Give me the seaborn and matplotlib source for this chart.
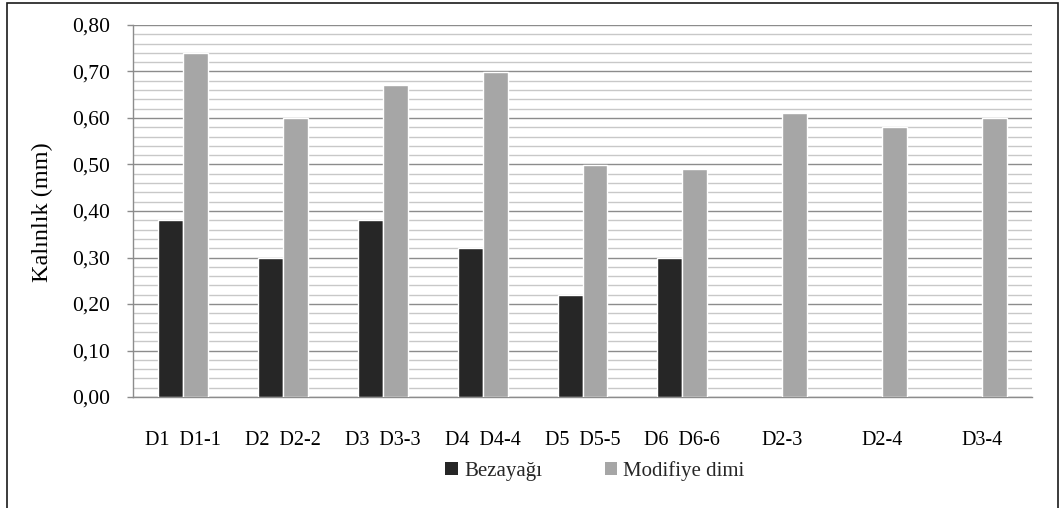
import numpy as np
import pandas as pd
import matplotlib
matplotlib.use("Agg")
import matplotlib.pyplot as plt
from matplotlib.patches import Rectangle, Patch
from matplotlib.ticker import MultipleLocator, FuncFormatter
import seaborn as sns

# Category labels along the x axis
categories = ["D1  D1-1", "D2  D2-2", "D3  D3-3", "D4  D4-4", "D5  D5-5",
              "D6  D6-6", "D2-3", "D2-4", "D3-4"]
series_names = ["Bezayağı", "Modifiye dimi"]

# Thickness values (mm); plain weave has no sample for the last three groups
bezayagi = [0.38, 0.30, 0.38, 0.32, 0.22, 0.30, np.nan, np.nan, np.nan]
modifiye_dimi = [0.74, 0.60, 0.67, 0.70, 0.50, 0.49, 0.61, 0.58, 0.60]

y_label = "Kalınlık (mm)"

df = pd.DataFrame({
    "kategori": categories * 2,
    "seri": [series_names[0]] * len(categories) + [series_names[1]] * len(categories),
    "deger": bezayagi + modifiye_dimi,
})

sns.set_theme(style="white")
plt.rcParams["font.family"] = ["Liberation Serif", "DejaVu Serif"]

colors = {"Bezayağı": "#262626", "Modifiye dimi": "#a6a6a6"}

fig = plt.figure(figsize=(10.59, 5.08), dpi=100)
ax = fig.add_axes([133 / 1059, 1 - 397 / 508, (1032 - 133) / 1059, (397 - 25) / 508])

sns.barplot(data=df, x="kategori", y="deger", hue="seri", order=categories,
            hue_order=series_names, palette=colors, width=0.5, dodge=True,
            saturation=1, errorbar=None, legend=False, ax=ax, zorder=3)

ax.set_xlim(-0.5, len(categories) - 0.5)
ax.set_ylim(0, 0.80)
ax.yaxis.set_major_locator(MultipleLocator(0.10))
ax.yaxis.set_minor_locator(MultipleLocator(0.02))
ax.yaxis.set_major_formatter(FuncFormatter(lambda v, p: f"{v:.2f}".replace(".", ",")))

ax.grid(False)
ax.grid(axis="y", which="minor", color="#c8c8c8", linewidth=1.0, zorder=1)
ax.grid(axis="y", which="major", color="#8c8c8c", linewidth=1.0, zorder=2)
ax.set_axisbelow(True)

for side in ["top", "right"]:
    ax.spines[side].set_visible(False)
ax.spines["left"].set_color("#8c8c8c")
ax.spines["bottom"].set_color("#8c8c8c")
ax.spines["left"].set_linewidth(1.0)
ax.spines["bottom"].set_linewidth(1.0)

ax.tick_params(axis="y", which="major", left=True, length=4.5, width=1.0,
               color="#8c8c8c", labelsize=15.5, pad=12, labelcolor="black")
ax.tick_params(axis="y", which="minor", left=False)
ax.tick_params(axis="x", bottom=False, labelsize=14.5, pad=18.5, labelcolor="black")

ax.set_xlabel("")
ax.set_ylabel("")
fig.text(42 / 1059, 1 - 212 / 508, y_label, rotation=90, ha="center", va="center",
         fontsize=17.5, color="black")

handles = [Patch(facecolor=colors[s], edgecolor="none") for s in series_names]
fig.legend(handles, series_names, loc="center", bbox_to_anchor=(595 / 1059, 1 - 471 / 508),
           ncol=2, frameon=False, fontsize=15, handlelength=0.6, handleheight=0.6,
           handletextpad=0.3, columnspacing=3.0)

# Outer chart frame
fig.patches.append(Rectangle((7 / 1059, -0.05), (1058 - 7) / 1059, 1.05 - 3 / 508,
                             transform=fig.transFigure, fill=False,
                             edgecolor="#1a1a1a", linewidth=1.2))

fig.savefig("out.png", dpi=100)
